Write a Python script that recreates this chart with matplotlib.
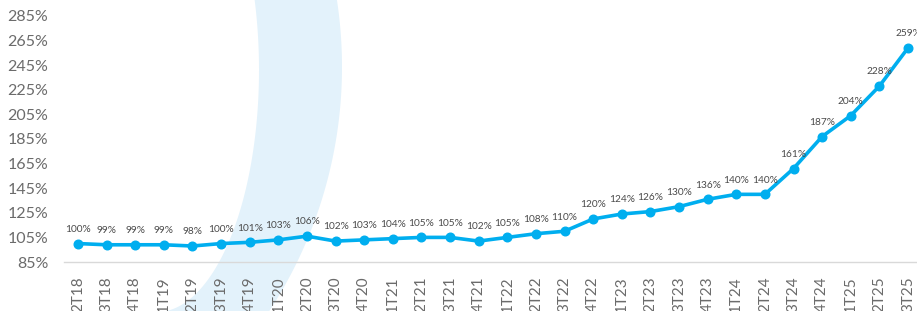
import matplotlib
matplotlib.use('Agg')
import matplotlib.pyplot as plt
import numpy as np

quarters = ['2T18', '3T18', '4T18', '1T19', '2T19', '3T19', '4T19', '1T20', '2T20', '3T20',
            '4T20', '1T21', '2T21', '3T21', '4T21', '1T22', '2T22', '3T22', '4T22', '1T23',
            '2T23', '3T23', '4T23', '1T24', '2T24', '3T24', '4T24', '1T25', '2T25', '3T25']
values = [100, 99, 99, 99, 98, 100, 101, 103, 106, 102,
          103, 104, 105, 105, 102, 105, 108, 110, 120, 124,
          126, 130, 136, 140, 140, 161, 187, 204, 228, 259]
yticks = [85, 105, 125, 145, 165, 185, 205, 225, 245, 265, 285]

plt.rcParams['font.family'] = ['Lato', 'DejaVu Sans']
W, H = 917, 311
fig = plt.figure(figsize=(W / 100, H / 100), dpi=100)

# decorative light blue arc in the background (pixel coords, y down)
bg = fig.add_axes([0, 0, 1, 1])
bg.set_xlim(0, W)
bg.set_ylim(H, 0)
bg.axis('off')
yy = np.linspace(0, H, 300)
x_out = -104 + np.sqrt(446 ** 2 - (yy - 67) ** 2)
x_in = 157 + 102 * np.sqrt(np.clip(1 - ((yy - 70) / 242) ** 2, 0, None))
bg.fill_betweenx(yy, x_in, x_out, color='#e3f2fb', lw=0)

ax = fig.add_axes([63.7 / W, 1 - 262 / H, (922.3 - 63.7) / W, 262 / H])
ax.patch.set_alpha(0)
x = np.arange(len(values))
ax.plot(x, values, color='#00aeef', lw=2.6, marker='o', ms=6.2, solid_joinstyle='round')
for xi, v in zip(x, values):
    ax.annotate(f'{v}%', (xi, v), xytext=(0, 7), textcoords='offset points',
                ha='center', va='bottom', fontsize=7.3, color='#4a4a4a')

ax.set_xlim(-0.5, len(values) - 0.5)
ax.set_ylim(85, 298)
ax.set_yticks(yticks)
ax.set_yticklabels([f'{t}%' for t in yticks])
ax.set_xticks(x)
ax.set_xticklabels(quarters, rotation=90)
ax.tick_params(axis='y', length=0, pad=11, labelsize=11.5, labelcolor='#6b6b6b')
ax.tick_params(axis='x', length=0, pad=10, labelsize=11, labelcolor='#6b6b6b')
for s in ['top', 'right', 'left']:
    ax.spines[s].set_visible(False)
ax.spines['bottom'].set_color('#d9d9d9')
ax.spines['bottom'].set_linewidth(1)

fig.savefig('out.png', dpi=100)
